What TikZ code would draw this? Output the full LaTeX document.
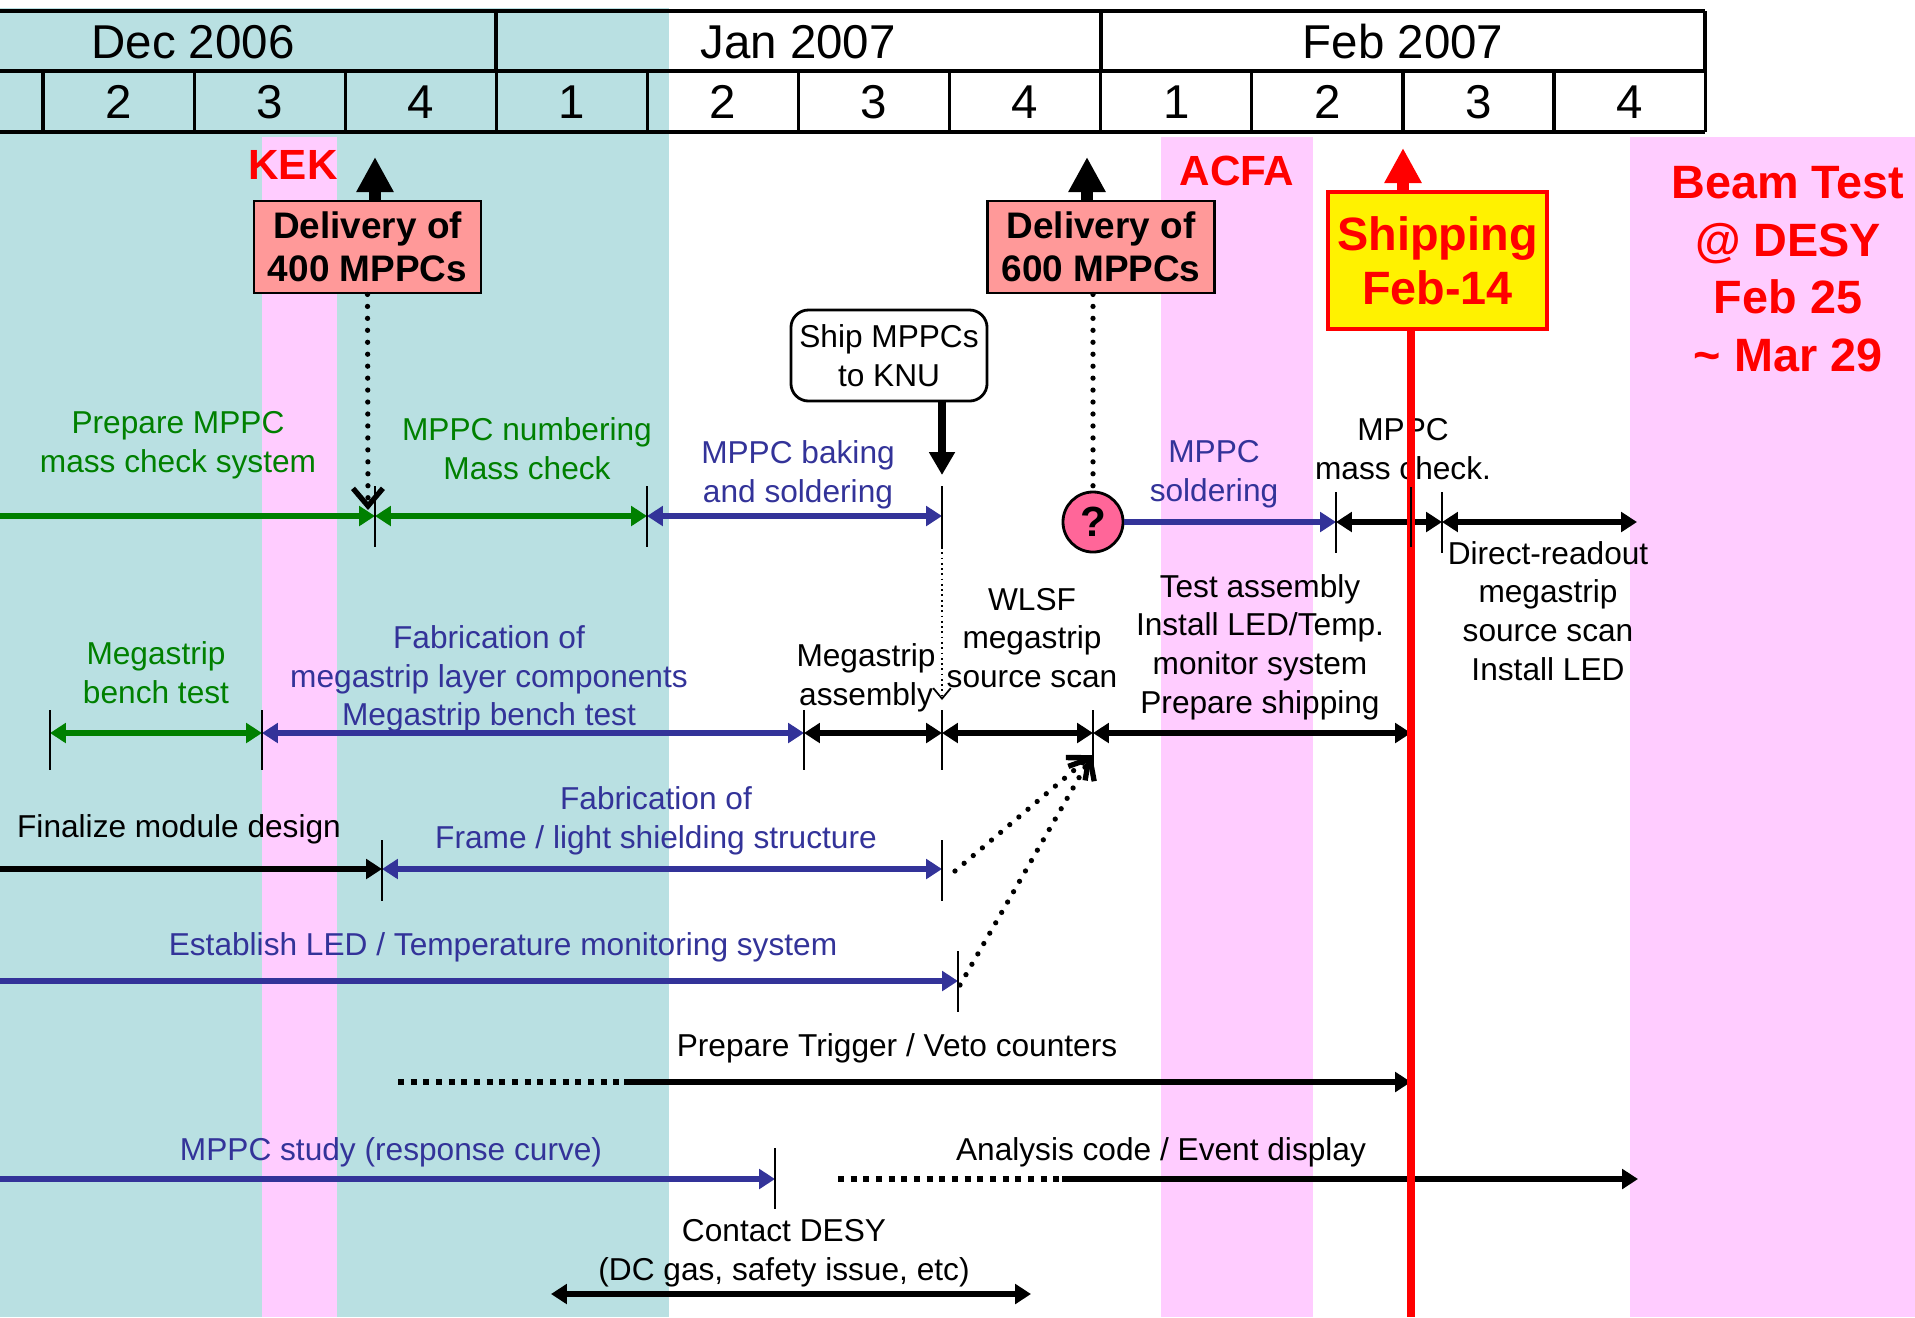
\documentclass[tikz,border=0pt]{standalone}
\usepackage{fontspec}
\setmainfont{Liberation Sans}
\usetikzlibrary{arrows.meta}
\definecolor{tealbg}{RGB}{185,224,226}
\definecolor{pinkbg}{RGB}{255,204,255}
\definecolor{mgreen}{RGB}{0,128,0}
\definecolor{mblue}{RGB}{51,51,153}
\definecolor{salmon}{RGB}{255,153,153}
\definecolor{qpink}{RGB}{255,102,153}

\begin{document}
\begin{tikzpicture}[x=0.01cm,y=-0.01cm,
	lbl/.style={align=center,inner sep=0pt,font=\fontsize{9}{11}\selectfont},
	hdr/.style={inner sep=0pt,font=\fontsize{13.5}{16}\selectfont},
	hot/.style={align=center,inner sep=0pt,text=red,font=\bfseries\fontsize{12}{14}\selectfont},
	delivery/.style={draw,line width=0.8pt,fill=salmon,align=center,minimum width=2.27cm,minimum height=0.92cm,inner sep=0pt,font=\bfseries\fontsize{10.5}{12.2}\selectfont},
	tickline/.style={line width=0.6pt},
	oneway/.style={line width=1.8pt,-{Triangle[length=4.5pt,width=5.5pt]}},
	twoway/.style={line width=1.8pt,{Triangle[length=4.5pt,width=5.5pt]}-{Triangle[length=4.5pt,width=5.5pt]}},
	dots/.style={line width=1.5pt,line cap=round,dash pattern=on 0pt off 3.4pt},
	barb/.style={-{Straight Barb[length=5pt,width=8.5pt]}},
	dashes/.style={line width=1.8pt,dash pattern=on 1.7pt off 1.9pt},
	bigup/.style={line width=3.4pt,-{Triangle[length=10pt,width=10pt]}}]
	\useasboundingbox (0,0) rectangle (1915,1317);

	%BACKGROUND
	\fill[tealbg] (0,8) rectangle (669,1317);
	\fill[pinkbg] (262,137) rectangle (337,1317);	%KEK
	\fill[pinkbg] (1161,137) rectangle (1313,1317);	%ACFA
	\fill[pinkbg] (1630,137) rectangle (1915,1317);	%DESY

	%HEADER
	\draw[line width=0.9pt] (0,11)--(1705,11) (0,71)--(1705,71) (0,132)--(1705,132);
	\draw[line width=0.9pt] (496,11)--(496,71) (1101,11)--(1101,71) (1705,11)--(1705,71);
	\foreach \k in {0,...,11} \draw[line width=0.9pt] ({43+151.1*\k},71)--({43+151.1*\k},132);
	\node[hdr] (dec) at (193,42) {Dec 2006};
	\node[hdr] (jan) at (798,42) {Jan 2007};
	\node[hdr] (feb) at (1403,42) {Feb 2007};
	\foreach \w [count=\i] in {2,3,4,1,2,3,4,1,2,3,4} \node[hdr] (wk\i) at ({43+151.1*(\i-0.5)},102) {\w};

	%MILESTONES
	\node[hot] (kek) at (293,165) {KEK};
	\node[hot] (acfa) at (1237,171) {ACFA};
	\node[hot,font=\bfseries\fontsize{13.3}{16.4}\selectfont] (beam) at (1788,269) {Beam Test\\@ DESY\\Feb 25\\\textasciitilde{} Mar 29};
	%
	\node[delivery] (box400) at (367.5,247) {Delivery of\\400 MPPCs};
	\node[delivery] (box600) at (1101,247) {Delivery of\\600 MPPCs};
	\coordinate (up400) at (375,157);
	\coordinate (up600) at (1087,157);
	\draw[bigup] (box400.north -| up400)--(up400);
	\draw[bigup] (box600.north -| up600)--(up600);
	%
	\node[draw,rounded corners=5pt,line width=0.8pt,fill=white,align=center,minimum width=1.96cm,minimum height=0.91cm,inner sep=0pt,font=\fontsize{9}{11}\selectfont] (knu) at (889,355.5) {Ship MPPCs\\to KNU};
	\coordinate (knutip) at (942,475);
	\draw[line width=2.5pt,-{Triangle[length=6.5pt,width=7pt]}] (knu.south -| knutip)--(knutip);
	%
	\node[circle,draw,line width=0.8pt,fill=qpink,minimum size=0.6cm,inner sep=0pt,font=\bfseries\fontsize{12}{14}\selectfont] (q) at (1093,522) {?};
	\coordinate (d400) at (368,510);
	\draw[dots,barb] (box400.south)--(d400);
	\draw[dots] (box600.south -| q.north)--(q.north);

	%ROW 1
	\node[lbl,text=mgreen] (prepmass) at (178,445) {Prepare MPPC\\mass check system};
	\node[lbl,text=mgreen] (numbering) at (527,449) {MPPC numbering\\Mass check};
	\node[lbl,text=mblue] (baking) at (798,475) {MPPC baking\\and soldering};
	\node[lbl,text=mblue] (soldering) at (1214,474) {MPPC\\soldering};
	\node[lbl] (masscheck) at (1403,449) {MPPC\\mass check.};
	\node[lbl] (direct) at (1548,611) {Direct-readout\\megastrip\\source scan\\Install LED};
	\coordinate (r1s) at (0,516);
	\coordinate (r1a) at (375,516);
	\coordinate (r1b) at (647,516);
	\coordinate (r1c) at (942,516);
	\draw[oneway,mgreen] (r1s)--(r1a);
	\draw[twoway,mgreen] (r1a)--(r1b);
	\draw[twoway,mblue] (r1b)--(r1c);
	\coordinate (r1d) at (1336,522);
	\coordinate (r1e) at (1442,522);
	\coordinate (r1f) at (1637,522);
	\draw[oneway,mblue] (q.east)--(r1d);
	\draw[twoway] (r1d)--(r1e);
	\draw[twoway] (r1e)--(r1f);
	\foreach \x in {375,647,942} \draw[tickline] (\x,486)--(\x,547);
	\foreach \x in {1336,1442} \draw[tickline] (\x,492)--(\x,553);
	\coordinate (knudown) at (942,700);
	\draw[line width=0.5pt,densely dotted,-{Straight Barb[length=3pt,width=5pt]}] (942,547)--(knudown);

	%ROW 2
	\node[lbl,text=mgreen] (bench) at (156,673) {Megastrip\\bench test};
	\node[lbl,text=mblue] (fabstrip) at (489,679) {Fabrication of\\megastrip layer components\\Megastrip bench test};
	\node[lbl] (assembly) at (866,678) {Megastrip\\assembly};
	\node[lbl] (wlsf) at (1032,638) {WLSF\\megastrip\\source scan};
	\node[lbl] (testasm) at (1260,647) {Test assembly\\Install LED/Temp.\\monitor system\\Prepare shipping};
	\coordinate (r2a) at (50,733);
	\coordinate (r2b) at (262,733);
	\coordinate (r2c) at (804,733);
	\coordinate (r2d) at (942,733);
	\coordinate (r2e) at (1093,733);
	\coordinate (r2f) at (1411,733);
	\draw[twoway,mgreen] (r2a)--(r2b);
	\draw[twoway,mblue] (r2b)--(r2c);
	\draw[twoway] (r2c)--(r2d);
	\draw[twoway] (r2d)--(r2e);
	\draw[twoway] (r2e)--(r2f);
	\foreach \x in {50,262,804,942,1093} \draw[tickline] (\x,710)--(\x,770);

	%ROW 3
	\node[lbl] (finalize) at (179,829) {Finalize module design};
	\node[lbl,text=mblue] (fabframe) at (656,821) {Fabrication of\\Frame / light shielding structure};
	\coordinate (r3s) at (0,869);
	\coordinate (r3a) at (382,869);
	\coordinate (r3b) at (942,869);
	\draw[oneway] (r3s)--(r3a);
	\draw[twoway,mblue] (r3a)--(r3b);
	\foreach \x in {382,942} \draw[tickline] (\x,840)--(\x,901);

	%ROW 4
	\node[lbl,text=mblue] (ledsys) at (503,947) {Establish LED / Temperature monitoring system};
	\coordinate (r4s) at (0,981);
	\coordinate (r4a) at (958,981);
	\draw[oneway,mblue] (r4s)--(r4a);
	\draw[tickline] (958,951)--(958,1012);
	%
	\coordinate (d3) at (955,871);
	\coordinate (d4) at (960,985);
	\coordinate (wlsfend) at (1092,755);
	\draw[dots,barb] (d3)--(wlsfend);
	\draw[dots,barb] (d4)--(wlsfend);

	%ROW 5
	\node[lbl] (trigger) at (897,1048) {Prepare Trigger / Veto counters};
	\coordinate (r5s) at (398,1082);
	\coordinate (r5a) at (624,1082);
	\coordinate (r5b) at (1411,1082);
	\draw[dashes] (r5s)--(r5a);
	\draw[oneway] (r5a)--(r5b);

	%ROW 6
	\node[lbl,text=mblue] (study) at (391,1152) {MPPC study (response curve)};
	\node[lbl] (analysis) at (1161,1152) {Analysis code / Event display};
	\coordinate (r6s) at (0,1179);
	\coordinate (r6a) at (775,1179);
	\coordinate (r6b) at (838,1179);
	\coordinate (r6c) at (1062,1179);
	\coordinate (r6d) at (1638,1179);
	\draw[oneway,mblue] (r6s)--(r6a);
	\draw[tickline] (775,1148)--(775,1209);
	\draw[dashes] (r6b)--(r6c);
	\draw[oneway] (r6c)--(r6d);

	%ROW 7
	\node[lbl] (contact) at (784,1253) {Contact DESY\\(DC gas, safety issue, etc)};
	\coordinate (r7a) at (551,1294);
	\coordinate (r7b) at (1031,1294);
	\draw[twoway] (r7a)--(r7b);

	%SHIPPING
	\node[draw=red,line width=1pt,fill=yellow,minimum width=2.19cm,minimum height=1.37cm,align=center,inner sep=0pt,text=red,font=\bfseries\fontsize{13.3}{15.4}\selectfont] (shipping) at (1437.5,260.5) {Shipping\\Feb-14};
	\coordinate (redtip) at (1403,148);
	\coordinate (redbot) at (1411,1317);
	\draw[bigup,red] (shipping.north -| redtip)--(redtip);
	\draw[red,line width=2.3pt] (shipping.south -| redbot)--(redbot);
	\draw[tickline] (1411,487)--(1411,547);
\end{tikzpicture}
\end{document}
